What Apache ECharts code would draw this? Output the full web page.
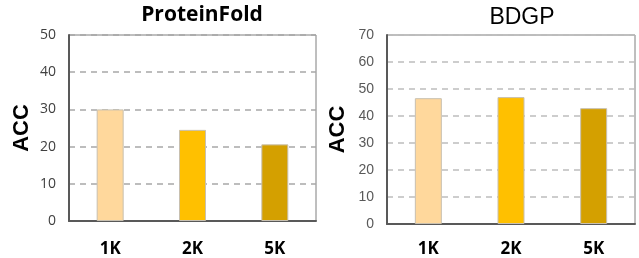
<!DOCTYPE html>
<html>
<head>
<meta charset="utf-8">
<script src="https://cdn.jsdelivr.net/npm/echarts@6/dist/echarts.min.js"></script>
<style>
  html, body { margin: 0; padding: 0; background: #fff; }
  #chart { width: 639px; height: 258px; }
</style>
</head>
<body>
<div id="chart"></div>
<script>
const categories = ["1K", "2K", "5K"];
const proteinFoldAcc = [30.0, 24.5, 20.6];
const bdgpAcc = [46.6, 47.0, 42.9];
const barColors = ["#FFD89C", "#FFC000", "#D4A000"];

const chart = echarts.init(document.getElementById("chart"), null, { renderer: "canvas" });

function yAxis(gridIndex, max, nameGap, labelFont, labelColor, gridColor) {
  return {
    type: "value",
    gridIndex,
    min: 0,
    max,
    interval: 10,
    name: "ACC",
    nameLocation: "middle",
    nameGap,
    nameTextStyle: { fontFamily: "Liberation Sans Narrow, Liberation Sans", fontWeight: "bold", fontSize: 22, color: "#000" },
    axisLine: { show: true, lineStyle: { color: "#595959", width: 2 } },
    axisTick: { show: false },
    axisLabel: { margin: 13, fontFamily: labelFont, fontSize: 14, color: labelColor },
    splitLine: { lineStyle: { color: gridColor, width: 1.5, type: [6, 5] } }
  };
}

function xAxis(gridIndex, margin) {
  return {
    type: "category",
    gridIndex,
    data: categories,
    axisLine: { show: true, lineStyle: { color: "#595959", width: 2 } },
    axisTick: { show: false },
    axisLabel: { margin, fontFamily: "Open Sans", fontWeight: "bold", fontSize: 17, color: "#000" }
  };
}

function barData(values) {
  return values.map((v, i) => ({
    value: v,
    itemStyle: { color: barColors[i], borderColor: "#c8c0b0", borderWidth: 1 }
  }));
}

chart.setOption({
  animation: false,
  title: [
    {
      text: "ProteinFold", left: 197, top: 0, textAlign: "center",
      textStyle: { fontFamily: "Open Sans", fontWeight: "bold", fontSize: 21, color: "#000" }
    },
    {
      text: "BDGP", left: 517, top: 1, textAlign: "center",
      textStyle: { fontFamily: "Liberation Sans", fontWeight: "normal", fontSize: 23, color: "#000" }
    }
  ],
  grid: [
    { left: 69, top: 35, width: 247, height: 186, show: true, borderColor: "#7f7f7f", borderWidth: 1 },
    { left: 387, top: 35, width: 248, height: 189, show: true, borderColor: "#7f7f7f", borderWidth: 1 }
  ],
  xAxis: [xAxis(0, 20), xAxis(1, 17)],
  yAxis: [
    yAxis(0, 50, 36, "Open Sans", "#404040", "#a8a8a8"),
    yAxis(1, 70, 38, "Liberation Sans", "#595959", "#bdbdbd")
  ],
  series: [
    { type: "bar", xAxisIndex: 0, yAxisIndex: 0, barWidth: 27, data: barData(proteinFoldAcc) },
    { type: "bar", xAxisIndex: 1, yAxisIndex: 1, barWidth: 27, data: barData(bdgpAcc) }
  ]
});
</script>
</body>
</html>
